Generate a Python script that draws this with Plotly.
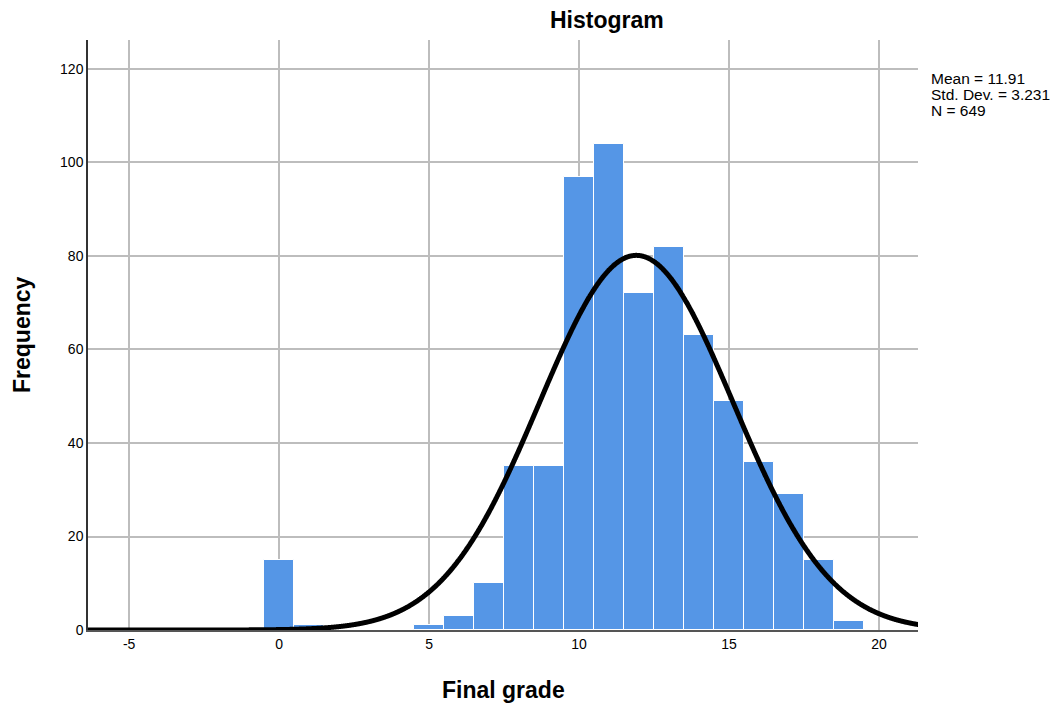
import numpy as np
import plotly.graph_objects as go

# Histogram data (bin centers, bin width 1)
grades = [0, 1, 5, 6, 7, 8, 9, 10, 11, 12, 13, 14, 15, 16, 17, 18, 19]
counts = [15, 1, 1, 3, 10, 35, 35, 97, 104, 72, 82, 63, 49, 36, 29, 15, 2]

# Summary statistics shown on the chart
mean_val = 11.91
std_val = 3.231
n_val = 649

x_tickvals = [-5, 0, 5, 10, 15, 20]
x_ticktext = ["-5", "0", "5", "10", "15", "20"]
y_tickvals = [0, 20, 40, 60, 80, 100, 120]

# Fitted normal curve (scaled to counts, bin width 1)
xs = np.linspace(-6.4, 21.4, 1500)
ys = n_val * 1.0 / (std_val * np.sqrt(2 * np.pi)) * np.exp(-0.5 * ((xs - mean_val) / std_val) ** 2)

font_family = "Liberation Sans, Arial, sans-serif"

fig = go.Figure()
fig.add_trace(go.Bar(
    x=grades, y=counts, width=1,
    marker=dict(color="#5596E6", line=dict(color="white", width=1)),
    showlegend=False, hoverinfo="x+y",
))
fig.add_trace(go.Scatter(
    x=xs, y=ys, mode="lines",
    line=dict(color="black", width=5, shape="spline"),
    showlegend=False, hoverinfo="skip",
))

stat_lines = ["Mean = %.2f" % mean_val, "Std. Dev. = %.3f" % std_val, "N = %d" % n_val]
stat_annots = [
    dict(text=t, x=1, y=yy, xref="paper", yref="paper", xanchor="left", yanchor="middle",
         xshift=11, showarrow=False, align="left",
         font=dict(size=15.5, family=font_family))
    for t, yy in zip(stat_lines, [0.934, 0.907, 0.880])
]

fig.update_layout(
    width=1059, height=709,
    margin=dict(l=80, r=149, t=32, b=87),
    plot_bgcolor="white", paper_bgcolor="white",
    font=dict(family=font_family, size=14, color="black"),
    bargap=0,
    annotations=[
        dict(text="<b>Histogram</b>", x=0.625, y=1, xref="paper", yref="paper",
             xanchor="center", yanchor="middle", yshift=20, showarrow=False,
             font=dict(size=23, family=font_family)),
        dict(text="<b>Final grade</b>", x=0.5, y=0, xref="paper", yref="paper",
             xanchor="center", yanchor="middle", yshift=-60, showarrow=False,
             font=dict(size=23, family=font_family)),
        dict(text="<b>Frequency</b>", x=0, y=0.5, xref="paper", yref="paper",
             xanchor="center", yanchor="middle", xshift=-66, textangle=-90, showarrow=False,
             font=dict(size=23, family=font_family)),
    ] + stat_annots,
)
fig.update_xaxes(
    range=[-6.37, 21.3], tickvals=x_tickvals, ticktext=x_ticktext,
    showgrid=True, gridcolor="#BDBDBD", gridwidth=1.5,
    showline=True, linecolor="#555555", linewidth=1.5,
    zeroline=False, ticks="", ticklen=0,
)
fig.update_yaxes(
    range=[0, 126.2], tickvals=y_tickvals,
    showgrid=True, gridcolor="#BDBDBD", gridwidth=1.5,
    showline=True, linecolor="#333333", linewidth=1.5,
    zeroline=False, ticks="", ticklen=0,
)

fig.write_html("out.html")
